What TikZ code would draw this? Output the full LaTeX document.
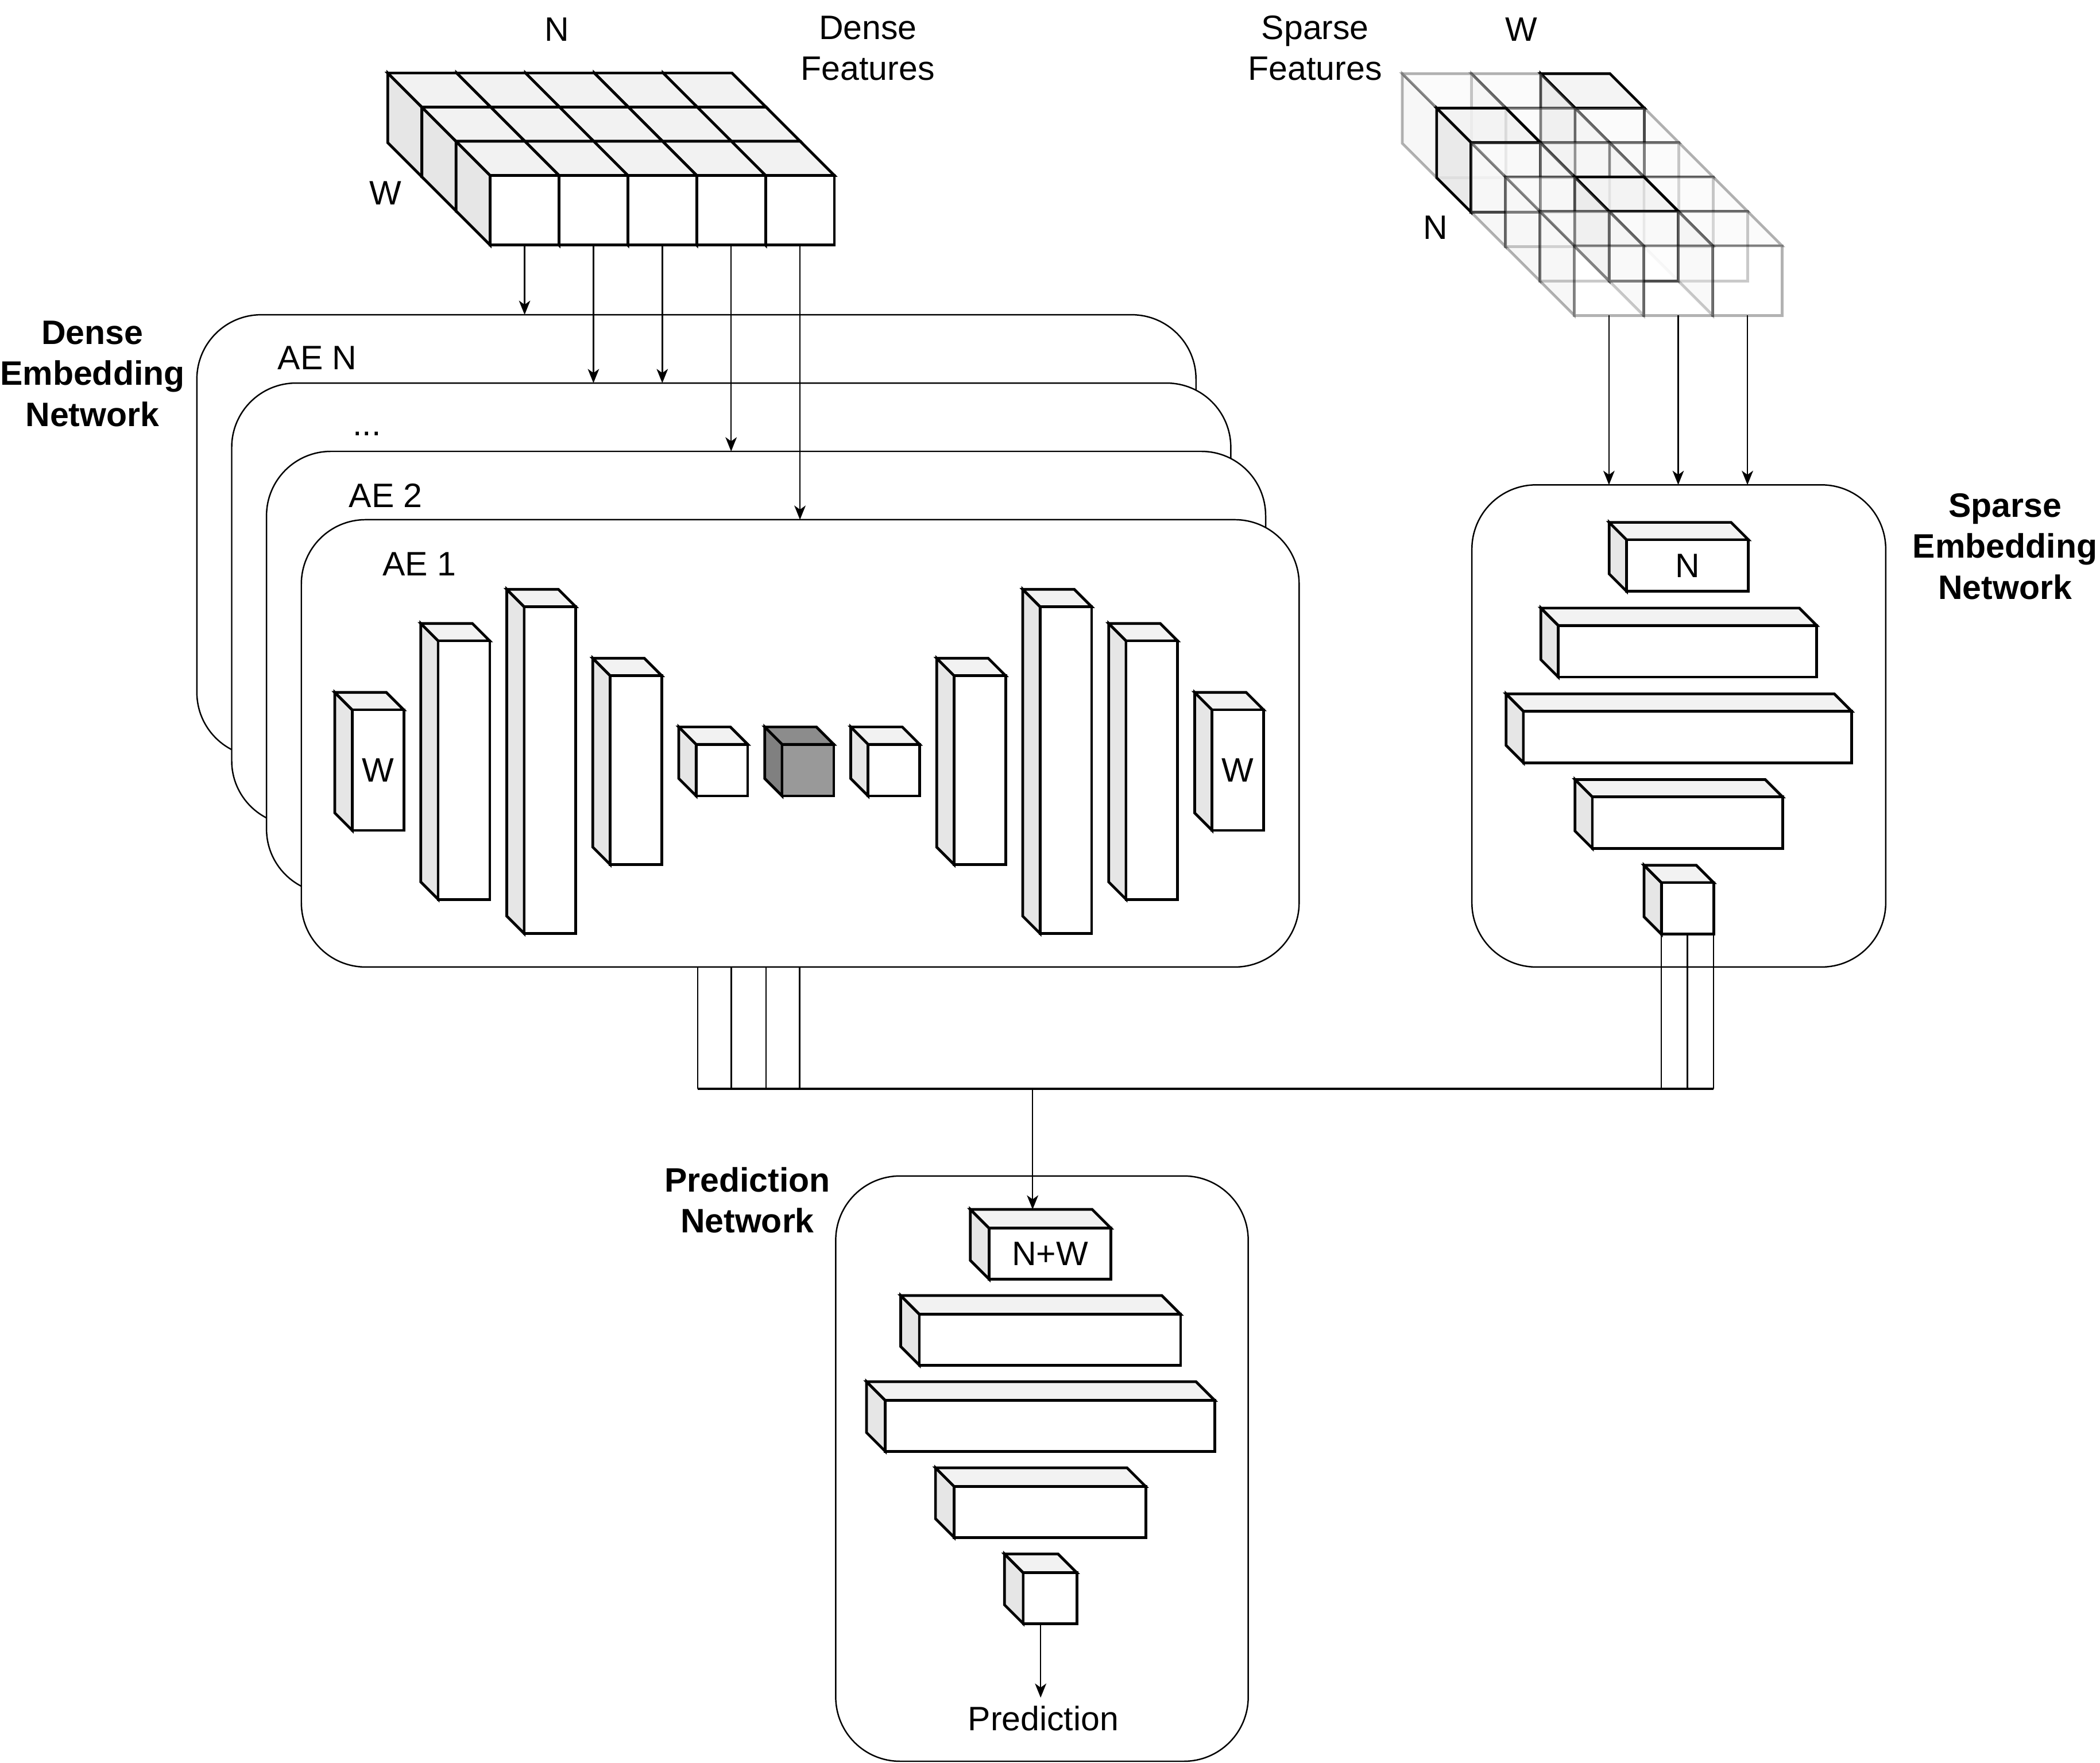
\documentclass[tikz,border=0pt]{standalone}
\usepackage{fontspec}
\setmainfont{Liberation Sans}
\usepackage{xcolor}
\definecolor{ladogris}{HTML}{E6E6E6}
\definecolor{techogris}{HTML}{F2F2F2}
\definecolor{ladoosc}{HTML}{808080}
\definecolor{techoosc}{HTML}{8C8C8C}
\definecolor{frenteosc}{HTML}{999999}
\usepackage{tikz}
\usetikzlibrary{arrows.meta, positioning}
\newcommand{\lbl}{\fontsize{14.4}{17.4}\selectfont}
% bloque 3D: [estilo]{nombre}{x}{y}{ancho}{alto}{fondo}{texto}
\newcommand{\bloque}[8][]{%
  \begin{scope}[#1]
    \filldraw[lado] (#3,#4) -- ++(-#7,-#7) -- ++(0,#6) -- ++(#7,#7) -- cycle;
    \filldraw[techo] (#3,#4) -- ++(-#7,-#7) -- ++(#5,0) -- ++(#7,#7) -- cycle;
    \node[frente, minimum width=#5*0.02cm, minimum height=#6*0.02cm] (#2) at (#3,#4) {#8};
    \path (#3,#4) ++(-#7,-#7) coordinate (#2-top);
  \end{scope}}

\begin{document}
\begin{tikzpicture}[x=0.02cm, y=-0.02cm,
    lado/.style={fill=ladogris, draw=black, line width=1.15pt},
    techo/.style={fill=techogris, draw=black, line width=1.15pt},
    frente/.style={fill=white, draw=black, line width=1.15pt, inner sep=0pt, outer sep=0pt, anchor=north west, font=\lbl},
    oscuro/.style={lado/.append style={fill=ladoosc}, techo/.append style={fill=techoosc}, frente/.append style={fill=frenteosc}},
    tenue/.style={draw opacity=0.3, fill opacity=0.3},
    marcado/.style={fill opacity=0.85},
    caja/.style={draw, fill=white, line width=0.6pt, rounded corners=0.96cm, inner sep=0pt, outer sep=0pt, anchor=north west},
    flecha/.style={-{Stealth[length=6pt, width=4.8pt, inset=1.7pt]}, line width=0.6pt},
    hilo/.style={line width=0.6pt},
    bus/.style={line width=1.1pt},
    titulo/.style={font=\lbl\bfseries, align=center},
    texto/.style={font=\lbl, align=center}]
    \useasboundingbox (0,0) rectangle (1568,1316);

    % Matriz de características densas (3 filas x 5 columnas)
    \foreach \ii in {0,1,2} {
        \foreach \jj in {4,3,2,1,0} {
            \pgfmathsetmacro\cx{366+51.4*\jj-25.5*(2-\ii)}
            \pgfmathsetmacro\cy{131-25.5*(2-\ii)}
            \bloque{dg\ii\jj}{\cx}{\cy}{51.4}{52}{25.5}{}
        }
    }
    \node[texto] (nd) at (416,22) {N};
    \node[texto] (wd) at (288,144) {W};
    \node[texto] (df) at (648,36) {Dense\\Features};

    % Pila de autoencoders
    \node[caja, minimum width=746*0.02cm, minimum height=330*0.02cm] (aen) at (147,235) {};
    \node[caja, minimum width=746*0.02cm, minimum height=330*0.02cm] (aedots) at (173,286) {};
    \node[caja, minimum width=746*0.02cm, minimum height=330*0.02cm] (ae2) at (199,337) {};
    \node[caja, minimum width=745*0.02cm, minimum height=334*0.02cm] (ae1) at (225,388) {};
    \node[texto] (lblaen) at (237,267) {AE N};
    \node[texto] (lbldots) at (274,324) {...};
    \node[texto] (lblae2) at (288,370) {AE 2};
    \node[texto] (lblae1) at (313,421) {AE 1};
    \node[titulo] (den) at (69,279) {Dense\\Embedding\\Network};

    % Capas del AE 1
    \foreach \k/\h/\t in {0/90/W, 1/193/{}, 2/244/{}, 3/141/{}, 4/38.5/{}, 6/38.5/{}, 7/141/{}, 8/244/{}, 9/193/{}, 10/90/W} {
        \pgfmathsetmacro\cx{263+64.2*\k}
        \pgfmathsetmacro\cy{575-\h/2}
        \bloque{capa\k}{\cx}{\cy}{38.5}{\h}{13}{\t}
    }
    \bloque[oscuro]{capa5}{584}{555.75}{38.5}{38.5}{13}{}

    % Flechas de entrada densas
    \draw[flecha] (dg20.south) -- (dg20.south |- aen.north);
    \draw[flecha] (dg21.south) -- (dg21.south |- aedots.north);
    \draw[flecha] (dg22.south) -- (dg22.south |- aedots.north);
    \draw[flecha] (dg23.south) -- (dg23.south |- ae2.north);
    \draw[flecha] (dg24.south) -- (dg24.south |- ae1.north);

    % Matriz de características dispersas (5 filas x 3 columnas)
    \foreach \ii in {0,...,4} {
        \foreach \jj in {2,1,0} {
            \tikzset{vista/.style={tenue}}
            \ifnum\ii\jj=2 \tikzset{vista/.style={marcado}}\fi
            \ifnum\ii\jj=10 \tikzset{vista/.style={marcado}}\fi
            \ifnum\ii\jj=31 \tikzset{vista/.style={marcado}}\fi
            \pgfmathsetmacro\cx{1047+51.7*\jj+25.7*(\ii+1)}
            \pgfmathsetmacro\cy{55+25.7*(\ii+1)}
            \bloque[vista]{sg\ii\jj}{\cx}{\cy}{51.7}{52}{25.7}{}
        }
    }
    \node[texto] (ws) at (1136,22) {W};
    \node[texto] (ns) at (1072,170) {N};
    \node[texto] (sf) at (982,36) {Sparse\\Features};

    % Red de embedding dispersa
    \node[caja, minimum width=309*0.02cm, minimum height=360*0.02cm] (sen) at (1099,362) {};
    \node[titulo] (sent) at (1497,408) {Sparse\\Embedding\\Network};
    \foreach \k/\w/\t in {0/91/N, 1/193/{}, 2/245/{}, 3/142/{}, 4/39/{}} {
        \pgfmathsetmacro\cx{1260-\w/2}
        \pgfmathsetmacro\cy{403+64*\k}
        \bloque{se\k}{\cx}{\cy}{\w}{38.5}{13}{\t}
    }
    \foreach \jj in {0,1,2}
        \draw[flecha] (sg4\jj.south) -- (sg4\jj.south |- sen.north);

    % Concatenación
    \coordinate (busL) at (521,813);
    \coordinate (busM) at (771,813);
    \foreach \x in {521,546,572,597} {
        \coordinate (tap) at (\x,813);
        \draw[hilo] (ae1.south -| tap) -- (tap);
    }
    \foreach \a in {south west, south, south east}
        \draw[hilo] (se4.\a) -- (se4.\a |- busL);
    \draw[bus] (busL) -- (se4.south east |- busL);

    % Red de predicción
    \node[caja, minimum width=308*0.02cm, minimum height=437*0.02cm] (pn) at (624,878) {};
    \node[titulo] (pnt) at (558,896) {Prediction\\Network};
    \foreach \k/\w/\t in {0/91/N+W, 1/195/{}, 2/246/{}, 3/143/{}, 4/40/{}} {
        \pgfmathsetmacro\cx{784-\w/2}
        \pgfmathsetmacro\cy{917+64.3*\k}
        \bloque{pn\k}{\cx}{\cy}{\w}{38}{14}{\t}
    }
    \node[texto] (pred) at (779,1283) {Prediction};
    \draw[flecha] (busM) -- (busM |- pn0-top);
    \path ([xshift=-0.14cm]pn4.south) coordinate (pout);
    \draw[flecha] (pout) -- (pout |- pred.north);
\end{tikzpicture}
\end{document}
